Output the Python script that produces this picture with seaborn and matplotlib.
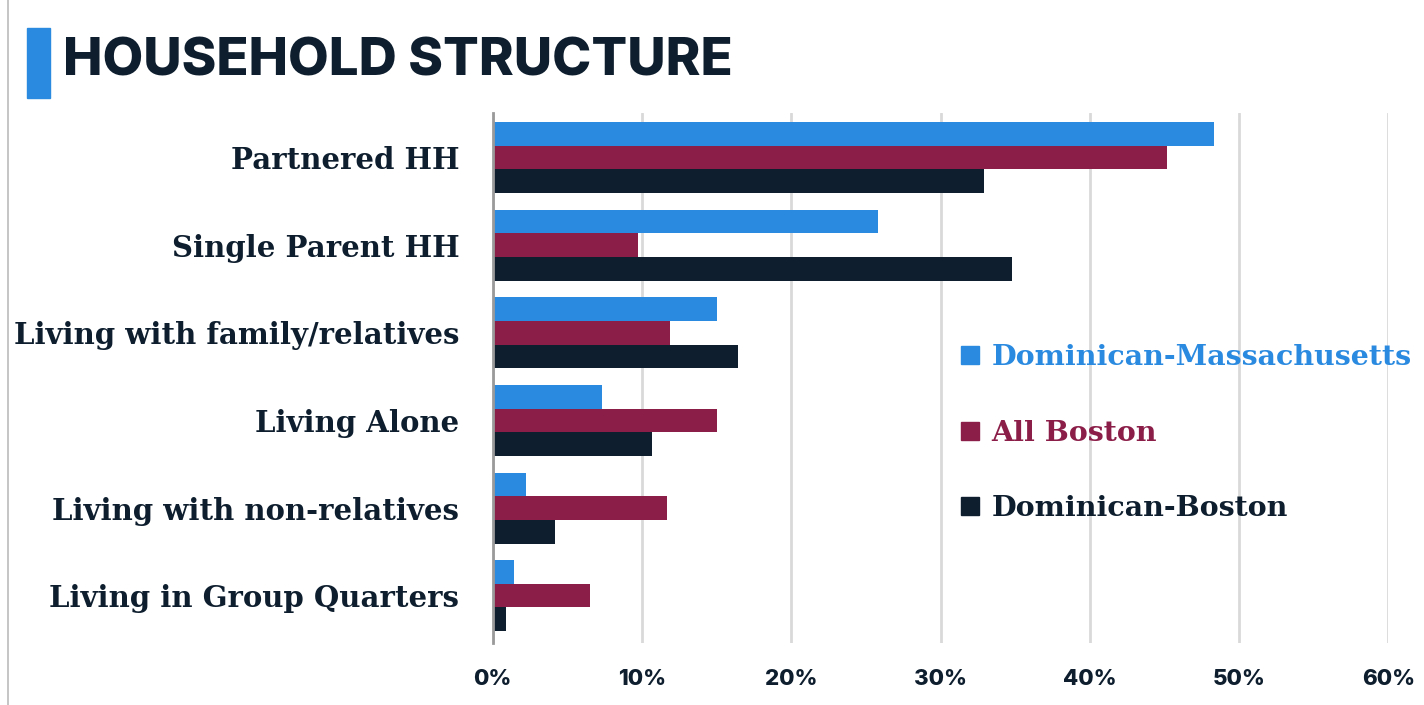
import numpy as np
import pandas as pd
import matplotlib
matplotlib.use('Agg')
import matplotlib.pyplot as plt
import seaborn as sns
from matplotlib.patches import Rectangle
from matplotlib.lines import Line2D

# ----------------------------------------------------------------
# Data (share of households, %)
# ----------------------------------------------------------------
categories = ['Partnered HH', 'Single Parent HH', 'Living with family/relatives',
              'Living Alone', 'Living with non-relatives', 'Living in Group Quarters']
series_names = ['Dominican-Massachusetts', 'All Boston', 'Dominican-Boston']
dom_mass = [48.3, 25.8, 15.0, 7.3, 2.2, 1.4]
all_boston = [45.2, 9.7, 11.9, 15.0, 11.7, 6.5]
dom_boston = [32.9, 34.8, 16.4, 10.7, 4.2, 0.9]
xticks = [0, 10, 20, 30, 40, 50, 60]

colors = ['#2A8AE0', '#8B1E48', '#0E1E2E']

df = pd.DataFrame({
    'category': categories * 3,
    'group': np.repeat(series_names, len(categories)),
    'value': dom_mass + all_boston + dom_boston,
})

# ----------------------------------------------------------------
# Plot
# ----------------------------------------------------------------
sns.set_theme(style='white')
plt.rcParams['font.family'] = ['DejaVu Sans']

fig = plt.figure(figsize=(14.24, 7.05), dpi=100)
ax = fig.add_axes([0.346, 0.088, 0.629, 0.752])

sns.barplot(data=df, y='category', x='value', hue='group', order=categories,
            hue_order=series_names, palette=colors, orient='h', width=0.81,
            saturation=1, linewidth=0, ax=ax, legend=False)

ax.set_xlim(0, 60)
ax.set_ylim(5.54, -0.51)
ax.set_xticks(xticks)
ax.set_xticklabels([f'{t}%' for t in xticks], fontfamily='Inter',
                   fontweight='heavy', fontsize=16, color='#0E1E2E')
ax.set_yticks(range(len(categories)))
ax.set_yticklabels(categories, fontfamily='DejaVu Serif', fontweight='bold',
                   fontsize=21, color='#0E1E2E')
ax.tick_params(axis='x', length=0, pad=19)
ax.tick_params(axis='y', length=0, pad=24)
ax.set_xlabel('')
ax.set_ylabel('')

ax.xaxis.grid(True, color='#d9d9d9', linewidth=2)
ax.set_axisbelow(True)
for side in ['top', 'right', 'bottom']:
    ax.spines[side].set_visible(False)
ax.spines['left'].set_color('#9a9a9a')
ax.spines['left'].set_linewidth(2)

# legend, coloured text with square markers
handles = [Line2D([], [], marker='s', linestyle='', markersize=13, color=c) for c in colors]
leg = ax.legend(handles, series_names, loc='center left', bbox_to_anchor=(0.49, 0.396),
                frameon=False, handletextpad=0.3, labelspacing=1.7, handlelength=0.9,
                prop={'family': 'DejaVu Serif', 'weight': 'bold', 'size': 20.5})
for txt, c in zip(leg.get_texts(), colors):
    txt.set_color(c)

# title with blue accent block
fig.patches.append(Rectangle((27 / 1424, 1 - 98 / 705), 23 / 1424, 70 / 705,
                             transform=fig.transFigure, color='#2A8AE0'))
fig.text(63 / 1424, 1 - 62 / 705, 'HOUSEHOLD STRUCTURE', fontfamily='Inter',
         fontweight='heavy', fontsize=38, color='#0E1E2E', va='center', ha='left')

# thin page border on the left
fig.add_artist(Line2D([8 / 1424, 8 / 1424], [0, 1], transform=fig.transFigure,
                      color='#bbbbbb', linewidth=1.2))

fig.savefig('out.png', dpi=100)
